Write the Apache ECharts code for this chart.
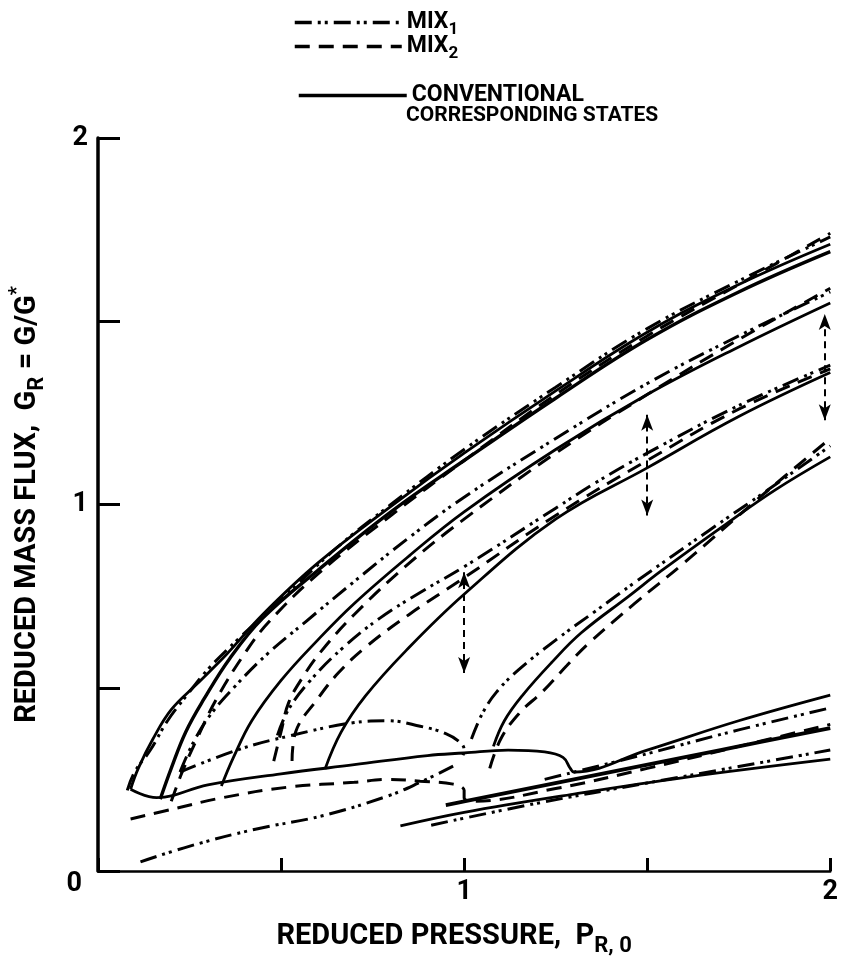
<!DOCTYPE html>
<html><head><meta charset="utf-8">
<script src="https://cdn.jsdelivr.net/npm/echarts@6/dist/echarts.min.js"></script>
<style>html,body{margin:0;padding:0;background:#fff}#c{width:841px;height:962px}</style>
</head><body><div id="c"></div>
<script>
// ---- tick labels ----
const xTickLabels = ['1', '2'];          // shown at x = 1, 2
const yTickLabels = ['0', '1', '2'];     // shown at y = 0, 1, 2

// ---- conventional corresponding states (solid) ----
const convUpper1 = [[0.089,0.223],[0.11,0.28],[0.15,0.36],[0.2,0.44],[0.27,0.51],[0.35,0.59],[0.45,0.70],[0.6,0.84],[0.8,0.995],[1.0,1.14],[1.25,1.31],[1.5,1.47],[1.75,1.60],[2.0,1.71]];
const convUpper2 = [[0.17,0.196],[0.2,0.28],[0.24,0.38],[0.29,0.47],[0.36,0.58],[0.45,0.69],[0.6,0.82],[0.8,0.98],[1.0,1.12],[1.25,1.29],[1.5,1.45],[1.75,1.58],[2.0,1.69]];
const convUpper3 = [[0.337,0.232],[0.37,0.31],[0.42,0.41],[0.5,0.52],[0.6,0.63],[0.7,0.73],[0.85,0.86],[1.0,0.98],[1.25,1.15],[1.5,1.30],[1.75,1.43],[2.0,1.55]];
const convUpper4 = [[0.62,0.278],[0.664,0.379],[0.73,0.477],[0.84,0.60],[1.0,0.755],[1.25,0.96],[1.5,1.10],[1.75,1.24],[2.0,1.36]];
const convUpper5 = [[1.08,0.34],[1.11,0.41],[1.16,0.48],[1.24,0.57],[1.32,0.65],[1.45,0.75],[1.54,0.82],[1.72,0.95],[1.85,1.04],[2.0,1.13]];
const convLower1 = [[0.089,0.223],[0.16,0.20],[0.3,0.235],[0.5,0.265],[0.7,0.29],[0.9,0.315],[1.0,0.322],[1.12,0.33],[1.22,0.325],[1.27,0.31],[1.29,0.28],[1.3,0.27],[1.5,0.33],[1.75,0.41],[2.0,0.48]];
const convLower2 = [[0.95,0.18],[1.0,0.19],[1.3,0.25],[1.6,0.31],[1.8,0.35],[2.0,0.39]];
const convLower3 = [[0.826,0.123],[1.0,0.16],[1.3,0.21],[1.6,0.255],[2.0,0.305]];

// ---- MIX1 (dash-dot-dot) ----
const mix1Upper1 = [[0.08,0.22],[0.1,0.27],[0.143,0.33],[0.19,0.41],[0.243,0.48],[0.3,0.55],[0.38,0.63],[0.5,0.74],[0.65,0.88],[0.8,1.0],[1.0,1.15],[1.25,1.32],[1.5,1.48],[1.75,1.61],[2.0,1.73]];
const mix1Upper2 = [[0.224,0.27],[0.26,0.35],[0.31,0.43],[0.38,0.51],[0.46,0.59],[0.567,0.68],[0.7,0.79],[0.85,0.91],[1.0,1.02],[1.25,1.18],[1.5,1.33],[1.75,1.46],[2.0,1.58]];
const mix1Upper3 = [[0.49,0.37],[0.52,0.44],[0.58,0.52],[0.67,0.61],[0.77,0.69],[0.88,0.76],[1.0,0.83],[1.25,0.99],[1.36,1.06],[1.5,1.14],[1.75,1.27],[2.0,1.38]];
const mix1Upper4 = [[1.02,0.36],[1.05,0.43],[1.09,0.49],[1.15,0.55],[1.25,0.63],[1.36,0.71],[1.47,0.79],[1.67,0.93],[1.83,1.04],[2.0,1.16]];
const mix1Dome = [[0.224,0.27],[0.386,0.332],[0.521,0.368],[0.70,0.405],[0.79,0.41],[0.88,0.395],[0.95,0.375],[0.99,0.35],[1.0,0.33],[0.99,0.30]];
const mix1Lowest = [[0.116,0.025],[0.251,0.068],[0.43,0.114],[0.61,0.15],[0.79,0.204],[0.88,0.242],[0.97,0.286]];
const mix1Right1 = [[1.22,0.25],[1.5,0.32],[1.75,0.385],[2.0,0.445]];
const mix1Right2 = [[0.91,0.125],[1.2,0.185],[1.5,0.24],[1.75,0.285],[2.0,0.33]];

// ---- MIX2 (dashed) ----
const mix2Upper1 = [[0.2,0.19],[0.23,0.27],[0.27,0.36],[0.324,0.47],[0.405,0.60],[0.467,0.68],[0.6,0.81],[0.8,0.97],[1.0,1.12],[1.25,1.30],[1.5,1.46],[1.75,1.60],[2.0,1.74]];
const mix2Upper2 = [[0.48,0.30],[0.5,0.38],[0.521,0.46],[0.56,0.53],[0.61,0.60],[0.7,0.70],[0.85,0.84],[1.0,0.96],[1.25,1.14],[1.5,1.30],[1.75,1.45],[2.0,1.59]];
const mix2Upper3 = [[0.53,0.30],[0.54,0.38],[0.6,0.47],[0.656,0.54],[0.73,0.61],[0.85,0.70],[1.0,0.80],[1.25,0.97],[1.5,1.12],[1.75,1.26],[2.0,1.37]];
const mix2Upper4 = [[1.07,0.28],[1.1,0.36],[1.15,0.43],[1.215,0.49],[1.28,0.56],[1.339,0.62],[1.466,0.73],[1.6,0.84],[1.808,1.02],[2.0,1.18]];
const mix2Lower = [[0.089,0.142],[0.205,0.169],[0.34,0.20],[0.521,0.229],[0.70,0.242],[0.79,0.25],[0.88,0.245],[0.97,0.237],[1.0,0.22],[1.0,0.20],[1.02,0.19],[1.25,0.225],[1.5,0.28],[1.75,0.34],[2.0,0.40]];

// ---- double-headed arrows ----
const arrowX = [1.0, 1.5, 1.985];
const arrowLow = [0.54, 0.97, 1.23];
const arrowHigh = [0.815, 1.245, 1.52];

const FONT = 'Roboto, "Liberation Sans", sans-serif';
const DASH = { CONVENTIONAL: 'solid', MIX1: [17,6,3,4,3,6], MIX2: [15,9] };

const curves = [
  ['CONVENTIONAL', convUpper1, 2.8], ['CONVENTIONAL', convUpper2, 3.4], ['CONVENTIONAL', convUpper3, 2.8],
  ['CONVENTIONAL', convUpper4, 2.8], ['CONVENTIONAL', convUpper5, 2.8], ['CONVENTIONAL', convLower1, 2.8],
  ['CONVENTIONAL', convLower2, 3.8], ['CONVENTIONAL', convLower3, 2.8],
  ['MIX1', mix1Upper1, 3], ['MIX1', mix1Upper2, 3], ['MIX1', mix1Upper3, 3], ['MIX1', mix1Upper4, 3],
  ['MIX1', mix1Dome, 3], ['MIX1', mix1Lowest, 3], ['MIX1', mix1Right1, 3], ['MIX1', mix1Right2, 3],
  ['MIX2', mix2Upper1, 3], ['MIX2', mix2Upper2, 3], ['MIX2', mix2Upper3, 3], ['MIX2', mix2Upper4, 3],
  ['MIX2', mix2Lower, 3]
];

const series = curves.map(([name, data, w]) => ({
  name, type: 'line', data, symbol: 'none', smooth: 0.4, silent: true,
  itemStyle: { color: '#000' },
  lineStyle: { color: '#000', width: w, type: DASH[name] }
}));

series.push({
  name: 'arrows', type: 'line', data: [], symbol: 'none', silent: true,
  markLine: {
    silent: true, symbol: ['arrow', 'arrow'], symbolSize: [9, 16],
    label: { show: false },
    lineStyle: { color: '#000', width: 2, type: [7, 5] },
    data: arrowX.map((x, i) => [{ coord: [x, arrowLow[i]] }, { coord: [x, arrowHigh[i]] }])
  }
});

const legendBase = (name, top, left, width, dash, fmt) => ({
  data: [name], top, left, orient: 'vertical', selectedMode: false,
  itemWidth: width, itemHeight: 14, itemGap: 0,
  itemStyle: { opacity: 0 },
  lineStyle: { color: '#000', width: 3.5, type: dash },
  formatter: fmt,
  textStyle: {
    fontFamily: FONT, fontWeight: 'bold', fontSize: 23, color: '#000',
    rich: { s: { fontFamily: FONT, fontWeight: 'bold', fontSize: 17, color: '#000', verticalAlign: 'bottom', padding: [14, 0, 0, 0] } }
  }
});

const chart = echarts.init(document.getElementById('c'), null, { renderer: 'canvas' });
chart.setOption({
  animation: false,
  backgroundColor: '#fff',
  grid: { left: 97, right: 3, top: 138, bottom: 90 },
  legend: [
    legendBase('MIX1', 6, 288, 107, DASH.MIX1, () => 'MIX{s|1}'),
    legendBase('MIX2', 30, 288, 107, DASH.MIX2, () => 'MIX{s|2}'),
    legendBase('CONVENTIONAL', 79, 292, 108, 'solid', () => 'CONVENTIONAL')
  ],
  graphic: [{
    type: 'text', left: 406, top: 105,
    style: { text: 'CORRESPONDING STATES', fontFamily: FONT, fontWeight: 'bold', fontSize: 21, fill: '#000' }
  }],
  xAxis: {
    type: 'value', min: 0, max: 2, interval: 0.5,
    name: 'REDUCED PRESSURE,  P{s|R, 0}', nameLocation: 'middle', nameGap: 46,
    nameTextStyle: {
      fontFamily: FONT, fontWeight: 'bold', fontSize: 29, color: '#000', padding: [0, 20, 0, 0],
      rich: { s: { fontFamily: FONT, fontWeight: 'bold', fontSize: 22, color: '#000', verticalAlign: 'bottom', padding: [18, 0, 0, 0] } }
    },
    splitLine: { show: false },
    axisLine: { lineStyle: { color: '#000', width: 2.5 } },
    axisTick: { inside: true, length: 13, lineStyle: { color: '#000', width: 3 } },
    axisLabel: {
      fontFamily: FONT, fontWeight: 'bold', fontSize: 27, color: '#000', margin: 8,
      formatter: v => (v === 1 ? xTickLabels[0] : v === 2 ? xTickLabels[1] : '')
    }
  },
  yAxis: {
    type: 'value', min: 0, max: 2, interval: 0.5,
    name: 'REDUCED MASS FLUX,  G{s|R} = G/G{t|*}', nameLocation: 'middle', nameGap: 50, nameRotate: 90,
    nameTextStyle: {
      fontFamily: FONT, fontWeight: 'bold', fontSize: 29, color: '#000',
      rich: {
        s: { fontFamily: FONT, fontWeight: 'bold', fontSize: 22, color: '#000', verticalAlign: 'bottom', padding: [18, 0, 0, 0] },
        t: { fontFamily: FONT, fontWeight: 'bold', fontSize: 20, color: '#000', verticalAlign: 'top', padding: [0, 0, 16, 0] }
      }
    },
    splitLine: { show: false },
    axisLine: { lineStyle: { color: '#000', width: 3.5 } },
    axisTick: { inside: true, length: 22, lineStyle: { color: '#000', width: 3 } },
    axisLabel: {
      fontFamily: FONT, fontWeight: 'bold', fontSize: 27, color: '#000', margin: 10,
      formatter: v => (v === 0 ? '{z|' + yTickLabels[0] + '}' : v === 1 ? yTickLabels[1] : v === 2 ? yTickLabels[2] : ''),
      rich: { z: { fontFamily: FONT, fontWeight: 'bold', fontSize: 27, color: '#000', padding: [26, 6, 0, 0] } }
    }
  },
  series
});
</script>
</body></html>
